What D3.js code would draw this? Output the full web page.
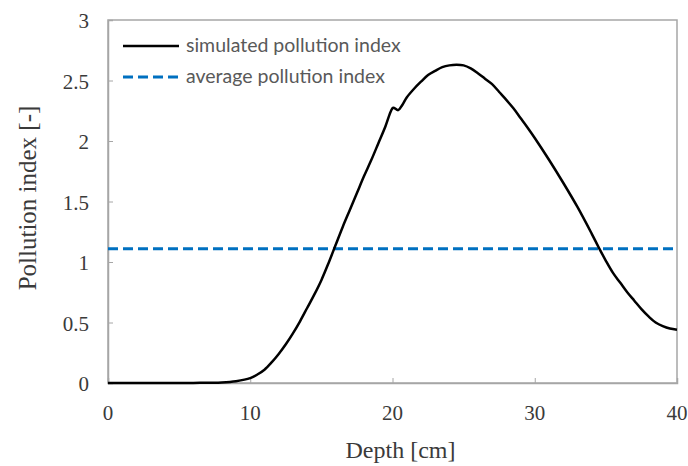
<!DOCTYPE html>
<html>
<head>
<meta charset="utf-8">
<script src="https://cdn.jsdelivr.net/npm/d3@7"></script>
<style>
  body { margin: 0; background: #fff; }
  svg { display: block; }
</style>
</head>
<body>
<div id="chart"></div>
<script>
// depth [cm] and simulated pollution index
const depth = [0, 2, 4, 6, 8, 9, 10, 10.5, 11, 11.5, 12, 12.5, 13, 13.5, 14, 14.5,
  15, 15.5, 16, 16.5, 17, 17.5, 18, 18.5, 19, 19.5, 19.9, 20.05, 20.4, 20.7, 21,
  21.5, 22, 22.5, 23, 23.5, 24, 24.5, 25, 25.5, 26, 26.5, 27, 27.5, 28, 28.5, 29,
  29.5, 30, 31, 32, 33, 34, 34.5, 35, 35.5, 36, 36.5, 37, 37.5, 38, 38.5, 39, 39.5, 40];
const pollution = [0, 0, 0, 0.001, 0.005, 0.015, 0.04, 0.07, 0.11, 0.17, 0.24, 0.32,
  0.41, 0.51, 0.62, 0.73, 0.85, 0.99, 1.14, 1.29, 1.43, 1.57, 1.71, 1.84, 1.98, 2.12,
  2.25, 2.275, 2.255, 2.30, 2.36, 2.43, 2.49, 2.545, 2.58, 2.61, 2.625, 2.63, 2.625,
  2.60, 2.56, 2.515, 2.47, 2.405, 2.34, 2.27, 2.19, 2.11, 2.025, 1.845, 1.655, 1.455,
  1.235, 1.12, 1.01, 0.91, 0.83, 0.75, 0.68, 0.61, 0.55, 0.50, 0.47, 0.45, 0.44];
const averageIndex = 1.11;

const xTicks = [0, 10, 20, 30, 40];
const yTicks = [0, 0.5, 1, 1.5, 2, 2.5, 3];
const legendLabels = ["simulated pollution index", "average pollution index"];

const margin = { top: 20, right: 11, bottom: 83, left: 108 };
const width = 688 - margin.left - margin.right;
const height = 466 - margin.top - margin.bottom;

const svg = d3.select("#chart").append("svg")
    .attr("width", 688)
    .attr("height", 466);

const g = svg.append("g")
    .attr("transform", "translate(" + margin.left + "," + margin.top + ")");

const x = d3.scaleLinear().domain([0, 40]).range([0, width]);
const y = d3.scaleLinear().domain([0, 3]).range([height, 0]);

const serif = "'Liberation Serif', 'Times New Roman', serif";

// frame
g.append("rect")
    .attr("width", width)
    .attr("height", height)
    .attr("fill", "none")
    .attr("stroke", "#a6a6a6")
    .attr("stroke-width", 1.5);

// axes (ticks pointing inward)
const xAxis = g.append("g")
    .attr("transform", "translate(0," + height + ")")
    .call(d3.axisTop(x).tickValues(xTicks).tickSize(5).tickFormat(""));
const yAxis = g.append("g")
    .call(d3.axisRight(y).tickValues(yTicks).tickSize(5).tickFormat(""));
[xAxis, yAxis].forEach(a => {
  a.select(".domain").attr("stroke", "#a6a6a6").attr("stroke-width", 1.5);
  a.selectAll(".tick line").attr("stroke", "#a6a6a6");
});

// tick labels
g.selectAll(".xlabel")
    .data(xTicks)
    .enter().append("text")
    .attr("x", d => x(d))
    .attr("y", height + 37)
    .attr("text-anchor", "middle")
    .style("font-family", serif)
    .style("font-size", "21px")
    .attr("fill", "#3a3a3a")
    .text(d => d);

g.selectAll(".ylabel")
    .data(yTicks)
    .enter().append("text")
    .attr("x", -19)
    .attr("y", d => y(d) + 8)
    .attr("text-anchor", "end")
    .style("font-family", serif)
    .style("font-size", "21px")
    .attr("fill", "#3a3a3a")
    .text(d => d);

// axis titles
svg.append("text")
    .attr("x", margin.left + width / 2 + 8)
    .attr("y", 458)
    .attr("text-anchor", "middle")
    .style("font-family", serif)
    .style("font-size", "24px")
    .attr("fill", "#3a3a3a")
    .text("Depth [cm]");

svg.append("text")
    .attr("transform", "translate(36,198) rotate(-90)")
    .attr("text-anchor", "middle")
    .style("font-family", serif)
    .style("font-size", "25px")
    .attr("fill", "#3a3a3a")
    .text("Pollution index [-]");

// average line
g.append("line")
    .attr("x1", x(0))
    .attr("x2", x(40))
    .attr("y1", y(averageIndex))
    .attr("y2", y(averageIndex))
    .attr("stroke", "#0070c0")
    .attr("stroke-width", 3)
    .attr("stroke-dasharray", "10,5");

// simulated curve
const line = d3.line()
    .x((d, i) => x(depth[i]))
    .y(d => y(d))
    .curve(d3.curveCatmullRom.alpha(0.5));

g.append("path")
    .datum(pollution)
    .attr("d", line)
    .attr("fill", "none")
    .attr("stroke", "#000")
    .attr("stroke-width", 2.5);

// legend
const legend = g.append("g").attr("transform", "translate(15,26)");
legendLabels.forEach((label, i) => {
  const row = legend.append("g").attr("transform", "translate(0," + i * 31 + ")");
  row.append("line")
      .attr("x1", 0).attr("x2", 56)
      .attr("stroke", i === 0 ? "#000" : "#0070c0")
      .attr("stroke-width", i === 0 ? 2.5 : 3)
      .attr("stroke-dasharray", i === 0 ? null : "10,5");
  row.append("text")
      .attr("x", 63)
      .attr("y", 6)
      .style("font-family", "Lato, 'Open Sans', sans-serif")
      .style("font-size", "19.5px")
      .attr("fill", "#595959")
      .text(label);
});
</script>
</body>
</html>
